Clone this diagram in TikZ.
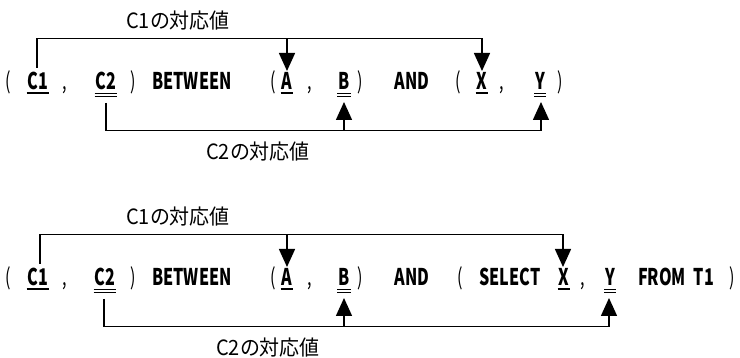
\documentclass[tikz,border=0pt]{standalone}
\usepackage{fontspec}
\usetikzlibrary{arrows.meta}
\newfontfamily\codefont[FakeStretch=0.7]{Noto Sans CJK JP}
\newfontfamily\jpfont[FakeStretch=0.95]{Noto Sans CJK JP}
\tikzset{
  tok/.style={inner sep=0pt, outer sep=0pt, anchor=base, font=\codefont\bfseries\fontsize{23}{27}\selectfont},
  pun/.style={tok, font=\codefont\fontsize{23}{27}\selectfont},
  lab/.style={inner sep=0pt, font=\jpfont\fontsize{21}{25}\selectfont},
  conn/.style={line width=1.5pt, line join=miter},
  arr/.style={conn, -{Triangle[width=16pt,length=18pt]}},
  ul/.style={line width=1.2pt}
}
\newcommand{\sul}[2]{\draw[ul] ([xshift=-1pt,yshift=-#2]#1.base west) -- ([xshift=1pt,yshift=-#2]#1.base east);}
\newcommand{\dul}[2]{\draw[ul] ([xshift=-1pt,yshift=-#2]#1.base west) -- ([xshift=1pt,yshift=-#2]#1.base east);
  \draw[ul] ([xshift=-1pt,yshift=-#2-3pt]#1.base west) -- ([xshift=1pt,yshift=-#2-3pt]#1.base east);}
\begin{document}
\begin{tikzpicture}[x=1pt,y=-1pt]
\useasboundingbox (0,0) rectangle (740,358);
% ---------- top diagram ----------
\node[lab] (l1a) at (178,21) {C1の対応値};
\node[lab] (l2a) at (258,152) {C2の対応値};
\node[pun] (p1a) at (8,89.5) {(};
\node[tok] (c1a) at (38,89.5) {C1};
\node[pun] (k1a) at (65,89.5) {,};
\node[tok] (c2a) at (106,89.5) {C2};
\node[pun] (p2a) at (133,89.5) {)};
\node[tok] (bwa) at (192,89.5) {BETWEEN};
\node[pun] (p3a) at (273,89.5) {(};
\node[tok] (aa) at (287,89.5) {A};
\node[pun] (k2a) at (310,89.5) {,};
\node[tok] (ba) at (344,89.5) {B};
\node[pun] (p4a) at (360,89.5) {)};
\node[tok] (anda) at (412,89.5) {AND};
\node[pun] (p5a) at (458,89.5) {(};
\node[tok] (xa) at (482,89.5) {X};
\node[pun] (k3a) at (502,89.5) {,};
\node[tok] (ya) at (540,89.5) {Y};
\node[pun] (p6a) at (560,89.5) {)};
\sul{c1a}{3.5pt}
\sul{aa}{3.5pt}
\sul{xa}{3.5pt}
\dul{c2a}{4pt}
\dul{ba}{4pt}
\dul{ya}{4pt}
\coordinate (r1) at (0,38.5);
\coordinate (s1) at (0,68);
\coordinate (t1) at (0,71);
\coordinate (u1) at (0,103);
\coordinate (b1) at (0,130.5);
\coordinate (v1) at (0,102);
\draw[arr] ([xshift=-1pt]c1a.center |- s1) |- (xa.center |- r1) -- (xa.center |- t1);
\draw[arr] (aa.center |- r1) -- (aa.center |- t1);
\draw[arr] (c2a.center |- u1) |- ([xshift=1pt]ya.center |- b1) -- ([xshift=1pt]ya.center |- v1);
\draw[arr] (ba.center |- b1) -- (ba.center |- v1);
% ---------- bottom diagram ----------
\node[lab] (l1b) at (178,217) {C1の対応値};
\node[lab] (l2b) at (268,348) {C2の対応値};
\node[pun] (p1b) at (8,285.5) {(};
\node[tok] (c1b) at (38,285.5) {C1};
\node[pun] (k1b) at (65,285.5) {,};
\node[tok] (c2b) at (105,285.5) {C2};
\node[pun] (p2b) at (133,285.5) {)};
\node[tok] (bwb) at (192,285.5) {BETWEEN};
\node[pun] (p3b) at (273,285.5) {(};
\node[tok] (ab) at (287,285.5) {A};
\node[pun] (k2b) at (310,285.5) {,};
\node[tok] (bb) at (344,285.5) {B};
\node[pun] (p4b) at (360,285.5) {)};
\node[tok] (andb) at (412,285.5) {AND};
\node[pun] (p5b) at (460,285.5) {(};
\node[tok] (selb) at (510,285.5) {SELECT};
\node[tok] (xb) at (564,285.5) {X};
\node[pun] (k3b) at (583,285.5) {,};
\node[tok] (yb) at (610,285.5) {Y};
\node[tok] (frb) at (662,285.5) {FROM};
\node[tok] (t1b) at (704,285.5) {T1};
\node[pun] (p6b) at (732,285.5) {)};
\sul{c1b}{3.5pt}
\sul{ab}{3.5pt}
\sul{xb}{3.5pt}
\dul{c2b}{4pt}
\dul{bb}{4pt}
\dul{yb}{4pt}
\coordinate (r2) at (0,234.5);
\coordinate (s2) at (0,264);
\coordinate (t2) at (0,267);
\coordinate (u2) at (0,299);
\coordinate (b2) at (0,326.5);
\coordinate (v2) at (0,298);
\draw[arr] ([xshift=2pt]c1b.center |- s2) |- ([xshift=-1pt]xb.center |- r2) -- ([xshift=-1pt]xb.center |- t2);
\draw[arr] (ab.center |- r2) -- (ab.center |- t2);
\draw[arr] ([xshift=-1pt]c2b.center |- u2) |- ([xshift=-1pt]yb.center |- b2) -- ([xshift=-1pt]yb.center |- v2);
\draw[arr] (bb.center |- b2) -- (bb.center |- v2);
\end{tikzpicture}
\end{document}
